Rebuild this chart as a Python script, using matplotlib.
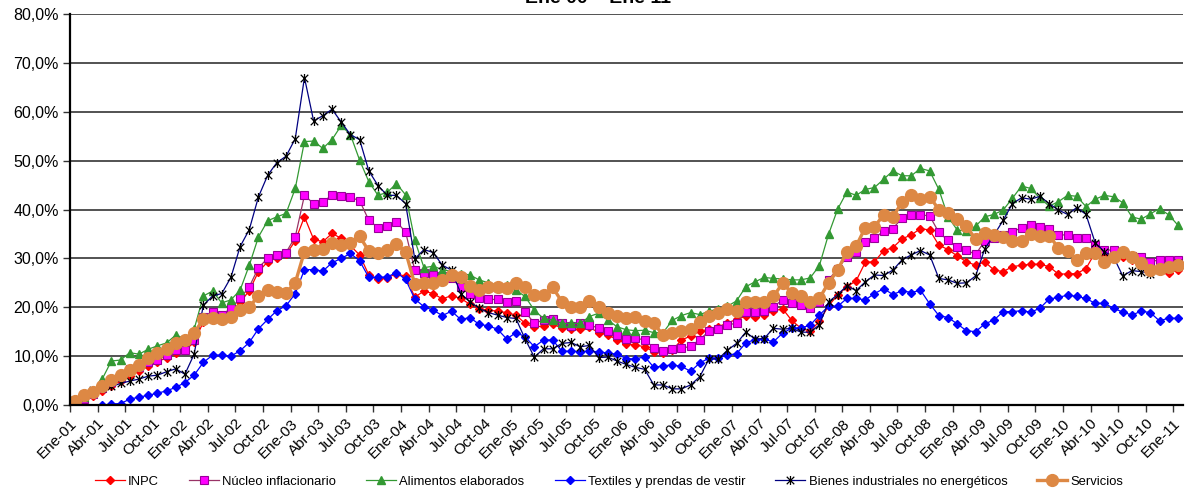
import numpy as np
import matplotlib
matplotlib.use("Agg")
import matplotlib.pyplot as plt
from matplotlib.path import Path
from matplotlib.ticker import FuncFormatter

plt.rcParams['font.family'] = ['Liberation Sans', 'DejaVu Sans']

# meses Ene-01 .. Ene-11 (121 observaciones mensuales)
meses = ["Ene", "Feb", "Mar", "Abr", "May", "Jun", "Jul", "Ago", "Sep", "Oct", "Nov", "Dic"]
etiquetas = ["%s-%02d" % (meses[k % 12], 1 + k // 12) for k in range(121)]

inpc = [0.3, 0.9, 1.8, 2.8, 3.9, 4.9, 6.0, 7.0, 7.9, 8.8, 9.7, 10.6, 11.2, 12.8, 17.0, 18.0, 17.6, 19.0,
        21.0, 23.4, 27.3, 29.3, 30.1, 30.8, 33.6, 38.5, 33.9, 33.4, 35.1, 34.1, 32.6, 30.7, 26.6, 25.7,
        26.0, 26.9, 26.3, 22.1, 23.3, 22.8, 21.7, 22.4, 21.8, 20.6, 19.7, 19.4, 19.2, 18.9, 18.4, 16.7,
        15.9, 16.2, 16.6, 15.7, 15.5, 15.5, 15.9, 14.8, 14.3, 13.4, 12.5, 12.3, 11.9, 10.9, 10.6, 11.2,
        13.3, 14.1, 15.1, 15.5, 16.0, 16.8, 17.5, 18.2, 18.1, 18.5, 19.2, 19.7, 17.3, 15.7, 15.1, 17.1,
        20.3, 22.5, 24.2, 25.4, 29.2, 29.3, 31.6, 32.2, 34.0, 34.8, 36.1, 35.8, 32.7, 31.8, 30.5, 29.3,
        28.6, 29.3, 27.6, 27.3, 28.3, 28.6, 28.8, 28.8, 28.3, 26.8, 26.8, 26.9, 27.9, 31.2, 30.8, 30.5,
        30.2, 29.6, 29.0, 28.3, 27.5, 27.0, 27.6]

nucleo = [0.3, 1.3, 2.3, 3.5, 4.8, 5.8, 7.3, 7.8, 8.9, 9.2, 10.2, 11.2, 11.2, 13.4, 18.1, 19.1, 18.4, 19.8,
          21.8, 24.2, 28.1, 30.0, 30.7, 31.2, 34.4, 42.9, 41.2, 41.6, 42.9, 42.7, 42.5, 41.8, 37.8, 36.3,
          36.6, 37.5, 35.4, 27.6, 27.1, 26.7, 26.3, 25.9, 24.1, 22.8, 21.8, 21.6, 21.6, 21.1, 21.3, 19.1,
          16.7, 17.4, 17.5, 16.7, 16.2, 16.7, 16.4, 15.7, 15.2, 14.3, 13.6, 13.7, 13.3, 11.7, 11.0, 11.4,
          11.6, 12.0, 13.4, 15.1, 15.5, 16.3, 16.8, 19.1, 19.1, 19.2, 20.1, 21.5, 20.8, 20.4, 19.9, 21.1,
          25.6, 27.9, 30.3, 31.4, 33.4, 34.1, 35.6, 36.1, 38.3, 38.9, 38.9, 38.7, 35.3, 33.7, 32.4, 31.7,
          30.8, 33.6, 34.1, 34.8, 35.4, 36.3, 36.9, 36.5, 36.1, 34.8, 34.8, 34.1, 34.1, 32.7, 31.7, 31.7,
          31.0, 30.5, 30.3, 29.3, 29.7, 29.7, 29.7]

alimentos = [0.5, 1.6, 2.7, 5.3, 9.0, 9.2, 10.7, 10.4, 11.4, 12.1, 12.7, 14.3, 13.6, 15.5, 22.3, 23.3, 20.9,
             21.5, 23.5, 28.6, 34.4, 37.7, 38.5, 39.2, 44.3, 53.9, 54.0, 52.5, 54.3, 57.2, 55.3, 50.1, 45.7,
             42.9, 43.5, 45.3, 43.0, 33.7, 28.1, 28.4, 27.7, 27.3, 26.9, 26.6, 25.6, 25.0, 24.5, 24.5, 23.5,
             22.2, 19.4, 17.7, 17.4, 16.7, 16.7, 16.7, 18.1, 18.8, 17.4, 16.0, 15.4, 15.2, 15.3, 14.8, 14.8,
             17.3, 18.3, 18.9, 18.5, 19.2, 19.6, 20.2, 21.3, 24.2, 25.2, 26.1, 25.9, 25.8, 25.6, 25.6, 26.0,
             28.5, 34.9, 40.1, 43.6, 42.9, 44.1, 44.5, 46.2, 47.9, 46.9, 46.9, 48.4, 47.9, 44.1, 38.5, 35.8,
             35.6, 36.6, 38.5, 39.0, 39.9, 42.3, 44.8, 44.3, 42.3, 40.7, 41.6, 42.9, 42.7, 40.6, 42.1, 42.9,
             42.6, 41.4, 38.5, 38.0, 39.1, 40.2, 38.9, 36.8]

textiles = [0.0, -0.6, -0.8, -0.1, 0.2, 0.3, 1.2, 1.6, 2.0, 2.4, 2.9, 3.6, 4.6, 6.1, 8.7, 10.2, 10.2, 10.0,
            11.1, 12.8, 15.6, 17.5, 19.3, 20.3, 22.8, 27.7, 27.7, 27.4, 29.1, 30.0, 31.0, 29.5, 26.1, 26.1,
            26.2, 27.1, 25.7, 21.7, 20.1, 19.4, 18.3, 19.2, 17.5, 17.9, 16.5, 16.2, 15.5, 13.5, 14.8, 14.0,
            11.9, 13.3, 13.3, 11.0, 11.0, 10.9, 11.0, 10.9, 10.6, 10.4, 9.5, 9.4, 9.9, 7.7, 8.0, 8.2, 7.9,
            6.9, 8.6, 9.6, 9.6, 10.2, 10.5, 12.7, 13.4, 13.5, 12.9, 14.7, 15.7, 15.8, 16.3, 18.4, 20.2,
            20.2, 21.8, 21.8, 21.5, 22.8, 23.8, 22.6, 23.4, 23.0, 23.5, 20.7, 18.3, 17.9, 16.6, 15.2, 15.0,
            16.6, 17.4, 19.1, 19.1, 19.3, 19.0, 19.8, 21.7, 22.0, 22.5, 22.2, 21.8, 20.8, 20.8, 19.8, 19.0,
            18.4, 19.2, 18.9, 17.2, 17.8, 17.7]

bienes = [1.0, 2.2, 3.0, 3.4, 3.8, 4.4, 4.9, 5.3, 5.9, 6.1, 6.8, 7.4, 6.3, 10.4, 20.4, 22.3, 22.8, 26.1,
          32.4, 35.9, 42.6, 47.0, 49.6, 50.9, 54.5, 67.0, 58.1, 59.2, 60.5, 57.9, 55.3, 54.3, 47.9, 44.9,
          42.9, 42.9, 41.2, 29.9, 31.8, 31.2, 28.6, 27.6, 22.8, 21.1, 19.8, 18.9, 18.4, 17.9, 17.7, 13.5,
          9.8, 11.5, 11.5, 12.6, 12.8, 11.9, 12.2, 9.7, 9.8, 9.0, 8.3, 7.7, 7.3, 4.1, 4.1, 3.3, 3.3, 4.1,
          5.8, 9.4, 9.4, 11.2, 12.6, 14.9, 13.5, 13.6, 15.7, 15.5, 15.7, 14.9, 14.9, 16.4, 21.1, 22.6,
          24.4, 23.4, 25.2, 26.6, 26.5, 27.6, 29.7, 30.7, 31.6, 30.7, 25.9, 25.6, 24.9, 25.0, 26.4, 32.0,
          34.8, 37.8, 41.2, 42.4, 42.1, 42.7, 41.2, 39.9, 39.0, 40.4, 39.0, 33.2, 31.4, 30.3, 26.4, 27.5,
          27.3, 26.9, 27.6, 28.3, 29.0]

servicios = [0.8, 2.0, 2.7, 3.9, 5.1, 6.1, 7.2, 8.2, 9.6, 10.6, 11.4, 12.6, 13.2, 14.8, 17.5, 17.9, 17.5,
             18.1, 19.4, 20.1, 22.3, 23.5, 23.2, 23.0, 25.0, 31.4, 31.7, 32.0, 33.1, 32.7, 33.1, 34.5, 31.5,
             31.0, 31.8, 32.9, 31.4, 24.7, 24.9, 25.0, 25.6, 26.6, 26.1, 24.3, 23.5, 24.2, 24.2, 23.9, 25.0,
             24.1, 22.5, 22.5, 24.1, 21.1, 20.1, 20.1, 21.3, 20.1, 18.9, 18.2, 17.9, 18.1, 17.2, 16.7, 14.3,
             14.7, 15.2, 15.5, 17.0, 18.2, 18.9, 19.6, 19.3, 21.1, 21.1, 21.1, 22.2, 24.9, 23.0, 22.2, 21.1,
             21.8, 25.0, 27.6, 31.4, 32.5, 36.3, 36.5, 38.9, 38.5, 41.5, 43.0, 42.1, 42.6, 40.0, 39.2, 38.0,
             36.6, 33.9, 35.2, 34.8, 34.3, 33.6, 33.6, 35.0, 34.6, 34.6, 32.2, 31.5, 29.7, 31.2, 31.0, 29.3,
             30.3, 31.4, 30.3, 29.0, 27.6, 27.9, 28.3, 28.6]

# marcador "asterisco" estilo Excel: X con barra vertical
estrella = Path([(-1, -1), (1, 1), (-1, 1), (1, -1), (0, -1.2), (0, 1.2)],
                [Path.MOVETO, Path.LINETO, Path.MOVETO, Path.LINETO, Path.MOVETO, Path.LINETO])

series = [
    ("INPC", inpc, dict(color="#FF0000", marker="D", ms=4.2, mfc="#FF0000", mec="#FF0000", lw=0.9)),
    ("Núcleo inflacionario", nucleo, dict(color="#993366", marker="s", ms=6.0, mfc="#FF00FF", mec="#990099",
                                          mew=0.8, lw=0.9)),
    ("Alimentos elaborados", alimentos, dict(color="#339933", marker="^", ms=6.0, mfc="#339933",
                                             mec="#339933", lw=0.9)),
    ("Textiles y prendas de vestir", textiles, dict(color="#0000FF", marker="D", ms=4.0, mfc="#0000FF",
                                                    mec="#0000FF", lw=0.9)),
    ("Bienes industriales no energéticos", bienes, dict(color="#000080", marker=estrella, ms=6.5,
                                                        mfc="none", mec="#000000", mew=0.9, lw=0.9)),
    ("Servicios", servicios, dict(color="#DD8844", marker="o", ms=8.5, mfc="#DD8844", mec="#DD8844",
                                  lw=2.4)),
]

fig = plt.figure(figsize=(11.85, 4.91), dpi=100)
ax = fig.add_axes([70 / 1185, 86 / 491, 1112.5 / 1185, 391 / 491])

x = np.arange(len(etiquetas)) + 0.5
for nombre, valores, estilo in series:
    ax.plot(x, valores, label=nombre, **estilo)

ax.set_xlim(0, len(etiquetas))
ax.set_ylim(0, 80)
ax.set_yticks(np.arange(0, 81, 10))
ax.yaxis.set_major_formatter(FuncFormatter(lambda v, p: ("%.1f%%" % v).replace(".", ",")))
ax.grid(axis="y", color="#444444", lw=1.3)
ax.set_axisbelow(True)

pos = list(range(0, len(etiquetas), 3))
ax.set_xticks(pos)
ax.set_xticklabels([etiquetas[k] for k in pos], rotation=45, ha="right", rotation_mode="anchor",
                   fontsize=11)
ax.tick_params(axis="x", length=5, width=1, color="#333333", pad=3)
ax.tick_params(axis="y", length=5, width=1, color="#333333", labelsize=11.5, pad=3)

for s in ["top", "right"]:
    ax.spines[s].set_visible(False)
ax.spines["left"].set_color("black")
ax.spines["left"].set_linewidth(1.6)
ax.spines["bottom"].set_color("black")
ax.spines["bottom"].set_linewidth(1.6)

# el titulo queda recortado en el borde superior, como en el original
fig.text(0.505, 0.994, "Ene 00 \u2013 Ene 11", ha="center", va="baseline", fontsize=14, fontweight="bold")

fig.legend(loc="center", bbox_to_anchor=(0.514, 0.019), ncol=6, frameon=False, fontsize=9.4,
           handlelength=2.3, handletextpad=0.25, columnspacing=2.3, borderpad=0)

fig.savefig("out.png", dpi=100)
